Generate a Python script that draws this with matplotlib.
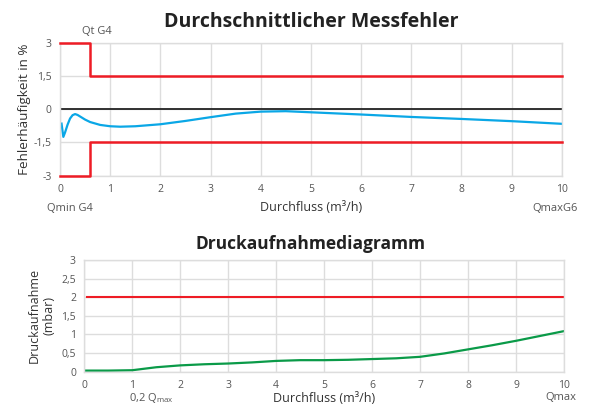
import numpy as np
import matplotlib
matplotlib.use("Agg")
import matplotlib.pyplot as plt

plt.rcParams['font.family'] = ['Open Sans', 'DejaVu Sans']

# --- Messfehler (oben) ---
err_x = [0.03, 0.066, 0.1, 0.15, 0.2, 0.25, 0.3, 0.35, 0.4, 0.5, 0.6, 0.8, 1.0, 1.2,
         1.5, 2.0, 2.5, 3.0, 3.5, 4.0, 4.5, 5.0, 6.0, 7.0, 8.0, 9.0, 10.0]
err_y = [-0.65, -1.25, -1.05, -0.7, -0.42, -0.27, -0.22, -0.26, -0.33, -0.47, -0.58,
         -0.71, -0.77, -0.79, -0.77, -0.68, -0.53, -0.36, -0.2, -0.11, -0.09, -0.14,
         -0.24, -0.35, -0.44, -0.54, -0.66]
lim_x = [0, 0.6, 0.6, 10]
lim_hi = [3, 3, 1.5, 1.5]
lim_lo = [-3, -3, -1.5, -1.5]
err_ticks = [-3, -1.5, 0, 1.5, 3]
err_ticklabels = ['-3', '-1,5', '0', '1,5', '3']

# --- Druckaufnahme (unten) ---
dp_x = [0, 0.5, 1.0, 1.25, 1.5, 2.0, 2.5, 3.0, 3.5, 4.0, 4.5, 5.0, 5.5, 6.0, 6.5, 7.0,
        7.5, 8.0, 8.5, 9.0, 9.5, 10.0]
dp_y = [0.03, 0.03, 0.04, 0.08, 0.12, 0.17, 0.2, 0.22, 0.25, 0.29, 0.31, 0.31, 0.32,
        0.34, 0.36, 0.4, 0.49, 0.6, 0.71, 0.83, 0.96, 1.09]
dp_limit_x = [0.05, 10]
dp_limit_y = [2, 2]
dp_ticks = [0, 0.5, 1, 1.5, 2, 2.5, 3]
dp_ticklabels = ['0', '0,5', '1', '1,5', '2', '2,5', '3']

RED = '#ee1c25'
BLUE = '#0aa7e6'
GREEN = '#0a9a48'
GRID = '#dddddd'
TXT = '#555555'


def style_axes(ax):
    ax.grid(True, color=GRID, linewidth=1)
    ax.set_axisbelow(True)
    for s in ax.spines.values():
        s.set_color(GRID)
        s.set_linewidth(1)
    ax.tick_params(length=0, labelsize=7.5, labelcolor=TXT, pad=6)
    ax.set_xticks(range(0, 11))
    ax.set_xlim(0, 10)


fig = plt.figure(figsize=(5.92, 4.05), dpi=100)

ax1 = fig.add_axes([0.1014, 0.5662, 0.8476, 0.3284])
style_axes(ax1)
ax1.set_ylim(-3, 3)
ax1.set_yticks(err_ticks)
ax1.set_yticklabels(err_ticklabels)
ax1.axhline(0, color='#222222', linewidth=1.3)
ax1.plot(lim_x, lim_hi, color=RED, linewidth=1.8, clip_on=False, zorder=3)
ax1.plot(lim_x, lim_lo, color=RED, linewidth=1.8, clip_on=False, zorder=3)
ax1.plot(err_x, err_y, color=BLUE, linewidth=1.6)
ax1.set_ylabel('Fehlerhäufigkeit in %', fontsize=9.7, color='#333333', labelpad=2)
ax1.set_xlabel('Durchfluss (m³/h)', fontsize=9, color='#333333', labelpad=4)
fig.text(0.525, 0.945, 'Durchschnittlicher Messfehler', ha='center', va='center',
         fontsize=14, fontweight='bold', color='#222222')
fig.text(0.163, 0.921, 'Qt G4', ha='center', va='center', fontsize=8, color=TXT)
fig.text(0.118, 0.485, 'Qmin G4', ha='center', va='center', fontsize=8, color=TXT)
fig.text(0.937, 0.485, 'QmaxG6', ha='center', va='center', fontsize=8, color=TXT)

ax2 = fig.add_axes([0.1424, 0.0822, 0.8103, 0.2758])
style_axes(ax2)
ax2.set_ylim(0, 3)
ax2.set_yticks(dp_ticks)
ax2.set_yticklabels(dp_ticklabels)
ax2.plot(dp_limit_x, dp_limit_y, color=RED, linewidth=1.5)
ax2.plot(dp_x, dp_y, color=GREEN, linewidth=1.6)
ax2.set_ylabel('Druckaufnahme\n(mbar)', fontsize=9, color='#333333', labelpad=4)
ax2.set_xlabel('Durchfluss (m³/h)', fontsize=9, color='#333333', labelpad=1)
fig.text(0.525, 0.397, 'Druckaufnahmediagramm', ha='center', va='center',
         fontsize=12.5, fontweight='bold', color='#222222')
fig.text(0.255, 0.018, '0,2 Q$_{\\mathregular{max}}$', ha='center', va='center',
         fontsize=8, color=TXT)
fig.text(0.948, 0.018, 'Qmax', ha='center', va='center', fontsize=8, color=TXT)

fig.savefig('out.png', dpi=100)
